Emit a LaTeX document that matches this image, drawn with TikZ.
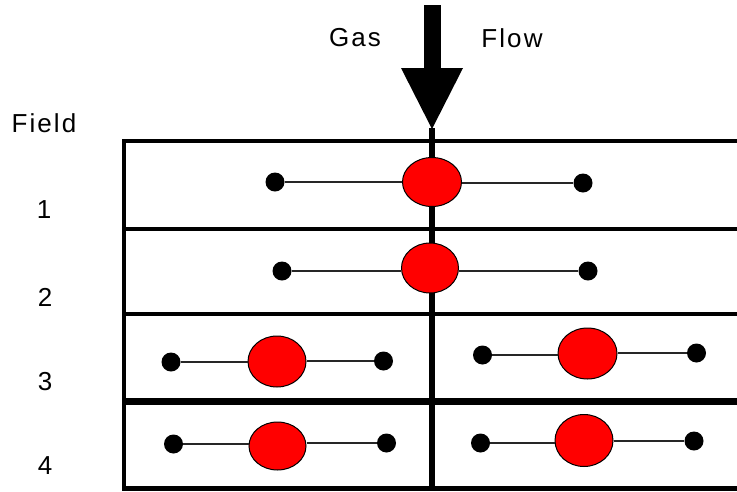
\documentclass[tikz,border=0pt]{standalone}
\usepackage{fontspec}
\setmainfont{Liberation Sans}[LetterSpace=8]
\usetikzlibrary{shapes.geometric}

\tikzset{
  label text/.style={font=\fontsize{26}{30}\selectfont, text=black, inner sep=0pt},
  grid line/.style={draw=black},
  bead/.style={circle, fill=black, draw=none, minimum size=19pt, inner sep=0pt},
  bubble/.style={ellipse, fill=red, draw=black, line width=1pt, inner sep=0pt},
  wire/.style={draw=black!85, line width=1.3pt},
}

\begin{document}
\begin{tikzpicture}[x=1pt, y=-1pt]
  \useasboundingbox (0,0) rectangle (737,491);

  % downward gas-flow arrow
  \fill[black] (423.5,5) rectangle (440.5,69);
  \fill[black] (401,68) -- (463,68) -- (432,129) -- cycle;

  % labels
  \node[label text] (gas)   at (355,38) {Gas};
  \node[label text] (flow)  at (512,38) {Flow};
  \node[label text] (field) at (44,123) {Field};
  \node[label text] (n1) at (44,210) {1};
  \node[label text] (n2) at (45,297) {2};
  \node[label text] (n3) at (45,382) {3};
  \node[label text] (n4) at (45,466) {4};

  % field frame
  \draw[grid line, line width=3.5pt] (122,141) -- (737,141);
  \draw[grid line, line width=3.5pt] (122,229) -- (737,229);
  \draw[grid line, line width=4pt]   (122,314) -- (737,314);
  \draw[grid line, line width=7pt]   (122,401.5) -- (737,401.5);
  \draw[grid line, line width=5pt]   (122,488.5) -- (737,488.5);
  \draw[black, line width=4pt] (124,139.25) -- (124,491);
  \draw[black, line width=6pt] (431.5,128) -- (431.5,491);

  % field 1
  \node[bead] (a1) at (275,182) {};
  \node[bead] (b1) at (583,183) {};
  \node[bubble, minimum width=59pt, minimum height=49pt] (c1) at (432,182) {};
  % field 2
  \node[bead] (a2) at (282,271) {};
  \node[bead] (b2) at (588,271) {};
  \node[bubble, minimum width=57pt, minimum height=50pt] (c2) at (430,268) {};
  % field 3, left and right
  \node[bead] (a3) at (171,362) {};
  \node[bead] (b3) at (383.5,361) {};
  \node[bubble, minimum width=58pt, minimum height=51pt] (c3) at (277,361.5) {};
  \node[bead] (d3) at (482.5,355) {};
  \node[bead] (e3) at (696.5,353) {};
  \node[bubble, minimum width=59pt, minimum height=51pt] (f3) at (587.5,353.5) {};
  % field 4, left and right
  \node[bead] (a4) at (173.5,444) {};
  \node[bead] (b4) at (386.5,443) {};
  \node[bubble, minimum width=57pt, minimum height=48pt] (c4) at (277.5,446) {};
  \node[bead] (d4) at (480.5,443) {};
  \node[bead] (e4) at (694,441) {};
  \node[bubble, minimum width=58pt, minimum height=52pt] (f4) at (584,440.5) {};

  % connecting rods
  \draw[wire] (a1) -- (c1.west |- a1);
  \draw[wire] (c1.east |- b1) -- (b1);
  \draw[wire] (a2) -- (c2.west |- a2);
  \draw[wire] (c2.east |- b2) -- (b2);
  \draw[wire] (a3) -- (c3.west |- a3);
  \draw[wire] (c3.east |- b3) -- (b3);
  \draw[wire] (d3) -- (f3.west |- d3);
  \draw[wire] (f3.east |- e3) -- (e3);
  \draw[wire] (a4) -- (c4.west |- a4);
  \draw[wire] (c4.east |- b4) -- (b4);
  \draw[wire] (d4) -- (f4.west |- d4);
  \draw[wire] (f4.east |- e4) -- (e4);
\end{tikzpicture}
\end{document}
